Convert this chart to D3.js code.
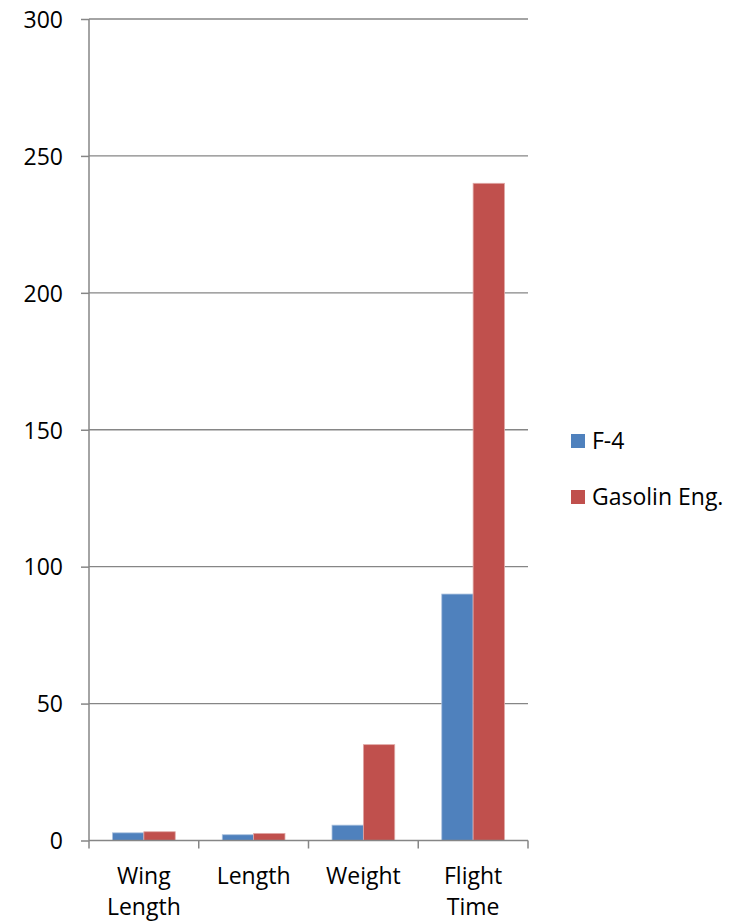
<!DOCTYPE html>
<html>
<head>
<meta charset="utf-8">
<script src="https://cdn.jsdelivr.net/npm/d3@7"></script>
<style>
  html, body { margin: 0; padding: 0; background: #fff; }
  svg text { font-family: "Open Sans", "Liberation Sans", sans-serif; fill: #000; }
</style>
</head>
<body>
<svg id="chart" width="736" height="923"></svg>
<script>
// Comparison of the F-4 and the gasoline-engine model
const categories = ["Wing Length", "Length", "Weight", "Flight Time"];
const categoryLines = [["Wing", "Length"], ["Length"], ["Weight"], ["Flight", "Time"]];
const seriesNames = ["F-4", "Gasolin Eng."];
const f4Values = [2.8, 2.1, 5.6, 90];
const gasolineValues = [3.2, 2.6, 35, 240];
const yTicks = [0, 50, 100, 150, 200, 250, 300];
const colors = ["#4F81BD", "#C0504D"];

const fontSize = 23;
const svg = d3.select("#chart");
const plotLeft = 89, plotRight = 528, plotTop = 19, plotBottom = 840.5;

const x = d3.scaleBand().domain(categories).range([plotLeft, plotRight]).paddingInner(0).paddingOuter(0);
const inner = d3.scaleBand().domain(seriesNames).range([0, x.bandwidth()]).paddingInner(0).paddingOuter(0.75);
const y = d3.scaleLinear().domain([0, 300]).range([plotBottom, plotTop]);

// horizontal gridlines
svg.append("g").selectAll("line").data(yTicks.filter(t => t > 0)).join("line")
  .attr("x1", plotLeft).attr("x2", plotRight)
  .attr("y1", d => y(d)).attr("y2", d => y(d))
  .attr("stroke", "#868686").attr("stroke-width", 1.3);

// bars
const rows = categories.map((c, i) => ({ cat: c, vals: [f4Values[i], gasolineValues[i]] }));
const groups = svg.append("g").selectAll("g").data(rows).join("g")
  .attr("transform", d => `translate(${x(d.cat)},0)`);
groups.selectAll("rect").data(d => d.vals.map((v, j) => ({ v, s: seriesNames[j], j }))).join("rect")
  .attr("x", d => inner(d.s))
  .attr("width", inner.bandwidth())
  .attr("y", d => y(d.v))
  .attr("height", d => y(0) - y(d.v))
  .attr("fill", d => colors[d.j])
  .attr("stroke", d => d.j === 0 ? "#a9c0de" : "#e0a8a6")
  .attr("stroke-width", 0.8);

// y axis
const yAxis = d3.axisLeft(y).tickValues(yTicks).tickSize(8).tickPadding(18);
const gy = svg.append("g").attr("transform", `translate(${plotLeft},0)`).call(yAxis);
gy.select(".domain").attr("stroke", "#868686").attr("stroke-width", 1.5).attr("d", `M0,${plotTop}V${plotBottom}`);
gy.selectAll(".tick line").attr("stroke", "#868686").attr("stroke-width", 1.5);
gy.selectAll(".tick text").attr("font-size", fontSize).attr("dy", "0.36em")
  .style("font-family", "'Open Sans', sans-serif").attr("fill", "#000");

// x axis
const xBoundaries = categories.map(c => x(c)).concat([plotRight]);
const gx = svg.append("g");
gx.append("line").attr("x1", plotLeft).attr("x2", plotRight).attr("y1", plotBottom).attr("y2", plotBottom)
  .attr("stroke", "#868686").attr("stroke-width", 1.5);
gx.selectAll("line.tick").data(xBoundaries).join("line").attr("class", "tick")
  .attr("x1", d => d).attr("x2", d => d).attr("y1", plotBottom).attr("y2", plotBottom + 8)
  .attr("stroke", "#868686").attr("stroke-width", 1.5);
const labels = gx.selectAll("text").data(categories).join("text")
  .attr("text-anchor", "middle")
  .attr("font-size", fontSize)
  .attr("x", d => x(d) + x.bandwidth() / 2)
  .attr("y", 884);
labels.selectAll("tspan").data((d, i) => categoryLines[i]).join("tspan")
  .attr("x", function() { return d3.select(this.parentNode).attr("x"); })
  .attr("dy", (d, k) => k === 0 ? 0 : 31)
  .text(d => d);

// legend
const legend = svg.append("g").selectAll("g").data(seriesNames).join("g")
  .attr("transform", (d, i) => `translate(571,${434 + i * 56})`);
legend.append("rect").attr("width", 14).attr("height", 14).attr("fill", (d, i) => colors[i]);
legend.append("text").attr("x", 21).attr("y", 7).attr("dy", "0.36em")
  .attr("font-size", fontSize).text(d => d);
</script>
</body>
</html>
